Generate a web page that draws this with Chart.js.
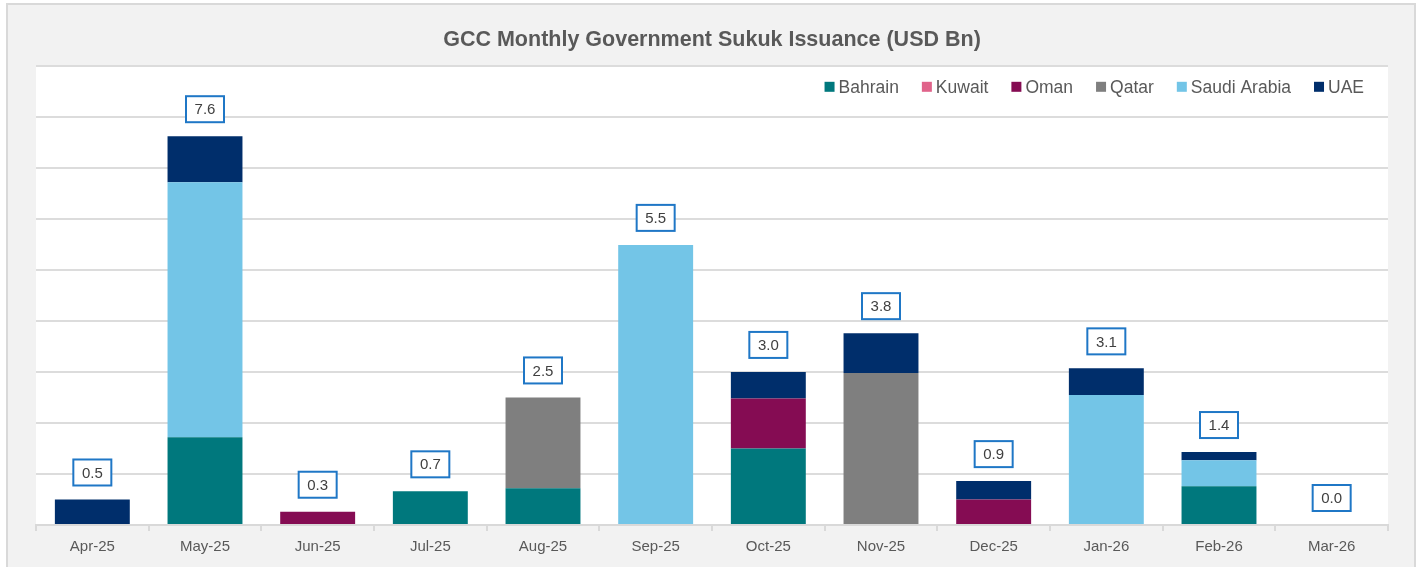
<!DOCTYPE html>
<html>
<head>
<meta charset="utf-8">
<script src="https://cdn.jsdelivr.net/npm/chart.js@4.4.1/dist/chart.umd.min.js"></script>
<style>
  html, body { margin: 0; padding: 0; background: #ffffff; }
  #frame {
    position: absolute; left: 6px; top: 3px;
    width: 1406px; height: 570px;
    border: 2px solid #d9d9d9;
    background: #f2f2f2;
  }
  #wrap { width: 1406px; height: 562px; }
</style>
</head>
<body>
<div id="frame"><div id="wrap"><canvas id="sukukChart"></canvas></div></div>
<script>
const months = ['Apr-25', 'May-25', 'Jun-25', 'Jul-25', 'Aug-25', 'Sep-25',
                'Oct-25', 'Nov-25', 'Dec-25', 'Jan-26', 'Feb-26', 'Mar-26'];

const bahrain = [0, 1.72, 0, 0.66, 0.72, 0, 1.5, 0, 0, 0, 0.76, 0];
const kuwait  = [0, 0, 0, 0, 0, 0, 0, 0, 0, 0, 0, 0];
const oman    = [0, 0, 0.26, 0, 0, 0, 0.98, 0, 0.5, 0, 0, 0];
const qatar   = [0, 0, 0, 0, 1.78, 0, 0, 2.98, 0, 0, 0, 0];
const saudi   = [0, 5.0, 0, 0, 0, 5.49, 0, 0, 0, 2.55, 0.51, 0];
const uae     = [0.5, 0.9, 0, 0, 0, 0, 0.52, 0.78, 0.36, 0.52, 0.16, 0];

const seriesNames = ['Bahrain', 'Kuwait', 'Oman', 'Qatar', 'Saudi Arabia', 'UAE'];
const seriesColors = ['#00787d', '#e0638a', '#850c53', '#7f7f7f', '#73c5e7', '#002e6b'];
const seriesValues = [bahrain, kuwait, oman, qatar, saudi, uae];

const FONT = "'Liberation Sans', Arial, sans-serif";

// white plot background
const plotBg = {
    id: 'plotBg',
    beforeDraw(chart) {
        const { ctx, chartArea: a } = chart;
        ctx.save();
        ctx.fillStyle = '#ffffff';
        ctx.fillRect(a.left, a.top, a.right - a.left, a.bottom - a.top);
        ctx.restore();
    }
};

// legend in the top right corner of the plot
const cornerLegend = {
    id: 'cornerLegend',
    afterDraw(chart) {
        const { ctx, chartArea: a } = chart;
        ctx.save();
        ctx.font = '17.5px ' + FONT;
        ctx.textBaseline = 'middle';
        const box = 10, gap = 4, spacing = 23;
        const y = a.top + 21;
        let x = a.right - 24;
        const sets = chart.data.datasets.slice().reverse();
        sets.forEach(ds => {
            const w = ctx.measureText(ds.label).width;
            x -= w;
            ctx.fillStyle = '#595959';
            ctx.fillText(ds.label, x, y + 1);
            x -= gap + box;
            ctx.fillStyle = ds.backgroundColor;
            ctx.fillRect(x, y - box / 2, box, box);
            x -= spacing;
        });
        ctx.restore();
    }
};

// boxed totals above each stack
const totalLabels = {
    id: 'totalLabels',
    afterDatasetsDraw(chart) {
        const { ctx, scales } = chart;
        ctx.save();
        ctx.font = '15px ' + FONT;
        ctx.textAlign = 'center';
        ctx.textBaseline = 'middle';
        months.forEach((m, i) => {
            let total = 0;
            chart.data.datasets.forEach(ds => { total += ds.data[i]; });
            const x = scales.x.getPixelForValue(i);
            const yTop = scales.y.getPixelForValue(total);
            const cy = yTop - 27;
            const w = 38, h = 26;
            ctx.fillStyle = '#ffffff';
            ctx.fillRect(x - w / 2, cy - h / 2, w, h);
            ctx.strokeStyle = '#1f77c6';
            ctx.lineWidth = 2;
            ctx.strokeRect(x - w / 2, cy - h / 2, w, h);
            ctx.fillStyle = '#404040';
            ctx.fillText(total.toFixed(1), x, cy + 1);
        });
        ctx.restore();
    }
};

const ctx = document.getElementById('sukukChart').getContext('2d');

new Chart(ctx, {
    type: 'bar',
    data: {
        labels: months,
        datasets: seriesNames.map((name, i) => ({
            label: name,
            data: seriesValues[i],
            backgroundColor: seriesColors[i],
            borderWidth: 0,
            categoryPercentage: 1,
            barPercentage: 0.665
        }))
    },
    options: {
        responsive: true,
        maintainAspectRatio: false,
        animation: false,
        layout: { padding: { left: 28, right: 26, top: 0, bottom: 4 } },
        plugins: {
            legend: { display: false },
            tooltip: { enabled: false },
            title: {
                display: true,
                text: 'GCC Monthly Government Sukuk Issuance (USD Bn)',
                color: '#595959',
                font: { family: FONT, size: 21.5, weight: 'bold' },
                padding: { top: 22, bottom: 13 }
            }
        },
        scales: {
            x: {
                stacked: true,
                grid: {
                    display: true,
                    drawOnChartArea: false,
                    drawTicks: true,
                    tickLength: 6,
                    color: '#d9d9d9',
                    lineWidth: 2
                },
                border: { display: true, color: '#d9d9d9', width: 2 },
                ticks: {
                    color: '#595959',
                    font: { family: FONT, size: 15 },
                    padding: 7
                }
            },
            y: {
                stacked: true,
                min: 0,
                max: 9,
                ticks: { display: false, stepSize: 1 },
                grid: { color: '#dcdcdc', lineWidth: 2, drawTicks: false },
                border: { display: false }
            }
        }
    },
    plugins: [plotBg, cornerLegend, totalLabels]
});
</script>
</body>
</html>
